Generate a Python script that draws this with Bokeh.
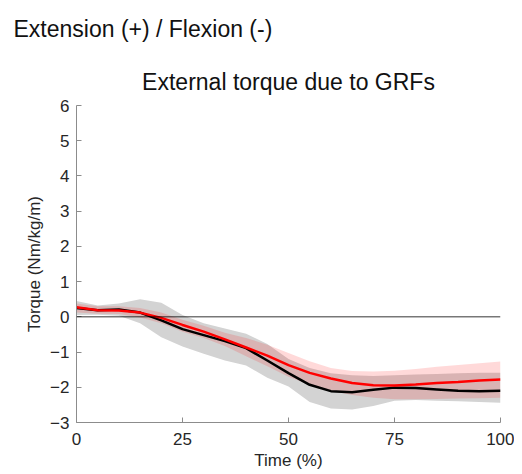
from bokeh.plotting import figure
from bokeh.models import Range1d, Title, Span, FixedTicker
from bokeh.embed import file_html
from bokeh.resources import INLINE

# ---- data ----
time_pct = [0, 5, 10, 15, 20, 25, 30, 35, 40, 45, 50, 55, 60, 65, 70, 75, 80, 85, 90, 95, 100]

black_mean = [0.25, 0.19, 0.21, 0.12, -0.10, -0.35, -0.52, -0.69, -0.89, -1.24, -1.60,
              -1.93, -2.11, -2.14, -2.07, -2.01, -2.02, -2.06, -2.10, -2.11, -2.10]
black_upper = [0.45, 0.32, 0.38, 0.50, 0.40, 0.05, -0.18, -0.33, -0.48, -0.77, -1.20,
               -1.45, -1.60, -1.66, -1.68, -1.66, -1.64, -1.62, -1.60, -1.59, -1.59]
black_lower = [0.05, 0.06, 0.03, -0.18, -0.58, -0.84, -1.05, -1.24, -1.38, -1.73, -1.98,
               -2.42, -2.60, -2.63, -2.53, -2.38, -2.36, -2.38, -2.40, -2.42, -2.44]

red_mean = [0.27, 0.19, 0.18, 0.12, -0.03, -0.23, -0.42, -0.64, -0.87, -1.10, -1.37,
            -1.59, -1.75, -1.88, -1.94, -1.95, -1.92, -1.88, -1.85, -1.81, -1.78]
red_upper = [0.38, 0.30, 0.30, 0.25, 0.12, -0.08, -0.25, -0.45, -0.60, -0.79, -1.03,
             -1.26, -1.45, -1.54, -1.55, -1.53, -1.48, -1.42, -1.37, -1.32, -1.27]
red_lower = [0.12, 0.09, 0.08, -0.02, -0.18, -0.42, -0.60, -0.83, -1.12, -1.40, -1.70,
             -1.93, -2.10, -2.22, -2.30, -2.34, -2.34, -2.33, -2.32, -2.31, -2.30]

x_ticks = [0, 25, 50, 75, 100]
y_ticks = [-3, -2, -1, 0, 1, 2, 3, 4, 5, 6]
y_tick_labels = {t: (("\u2212" + str(-t)) if t < 0 else str(t)) for t in y_ticks}

FONT = "Liberation Sans"
TXT = "#262626"
AX = "#8c8c8c"

p = figure(width=514, height=472, output_backend="svg", toolbar_location=None,
           x_range=Range1d(0, 100), y_range=Range1d(-3, 6),
           min_border_left=76, min_border_right=14, min_border_top=104, min_border_bottom=49,
           title="Extension (+) / Flexion (-)")
p.title.align = "left"
p.title.offset = -63
p.title.text_font = FONT
p.title.text_font_size = "23px"
p.title.text_font_style = "normal"
p.title.text_color = "#111111"
p.title.standoff = 27

p.add_layout(Title(text="External torque due to GRFs", align="center",
                   text_font=FONT, text_font_size="23px", text_font_style="normal",
                   text_color="#111111", standoff=22), "above")

p.outline_line_color = None
p.xgrid.visible = False
p.ygrid.visible = False
p.background_fill_color = "white"
p.border_fill_color = "white"

# bands
p.varea(x=time_pct, y1=black_lower, y2=black_upper, fill_color="#d3d3d3", fill_alpha=1.0)
p.varea(x=time_pct, y1=red_lower, y2=red_upper, fill_color="#ff0000", fill_alpha=0.15)

# zero line
p.add_layout(Span(location=0, dimension="width", line_color="black", line_width=0.8))

# means
p.line(time_pct, black_mean, line_color="black", line_width=2.5)
p.line(time_pct, red_mean, line_color="#ff0000", line_width=2.5)

# axes
for ax in (p.xaxis[0], p.yaxis[0]):
    ax.axis_line_color = AX
    ax.axis_line_width = 1
    ax.major_tick_line_color = AX
    ax.major_tick_in = 5
    ax.major_tick_out = 0
    ax.minor_tick_line_color = None
    ax.major_label_text_font = FONT
    ax.major_label_text_font_size = "17px"
    ax.major_label_text_color = TXT
    ax.axis_label_text_font = FONT
    ax.axis_label_text_font_size = "17px"
    ax.axis_label_text_font_style = "normal"
    ax.axis_label_text_color = TXT

p.xaxis.ticker = FixedTicker(ticks=x_ticks)
p.yaxis.ticker = FixedTicker(ticks=y_ticks)
p.yaxis.major_label_overrides = y_tick_labels
p.xaxis.axis_label = "Time (%)"
p.yaxis.axis_label = "Torque (Nm/kg/m)"
p.xaxis.major_label_standoff = 10
p.yaxis.major_label_standoff = 7
p.xaxis.axis_label_standoff = 3
p.yaxis.axis_label_standoff = 3

open("out.html", "w").write(file_html(p, INLINE))
